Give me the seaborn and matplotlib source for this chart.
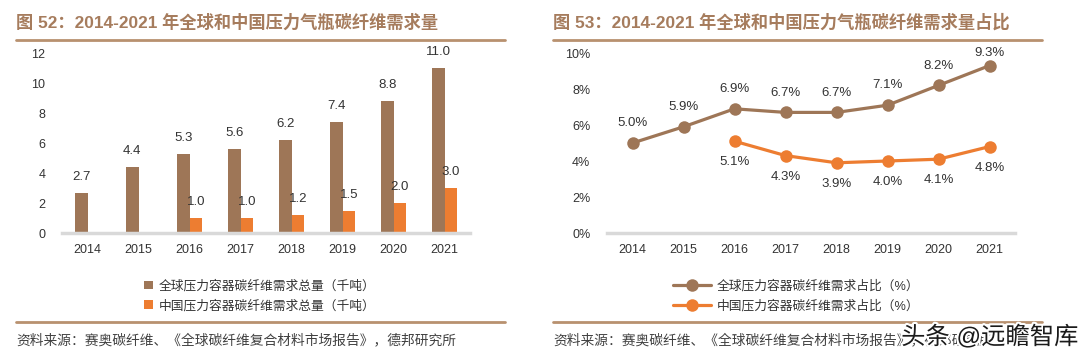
"""Pressure-vessel carbon fibre demand: global vs China, 2014-2021."""

import matplotlib

matplotlib.use("Agg")
import matplotlib.pyplot as plt
import matplotlib.patheffects as pe
import numpy as np
import pandas as pd
import seaborn as sns
from matplotlib.lines import Line2D

years = ["2014", "2015", "2016", "2017", "2018", "2019", "2020", "2021"]
global_demand = [2.7, 4.4, 5.3, 5.6, 6.2, 7.4, 8.8, 11.0]
china_demand = [np.nan, np.nan, 1.0, 1.0, 1.2, 1.5, 2.0, 3.0]
global_share = [5.0, 5.9, 6.9, 6.7, 6.7, 7.1, 8.2, 9.3]
china_share = [np.nan, np.nan, 5.1, 4.3, 3.9, 4.0, 4.1, 4.8]

bar_names = ["全球压力容器碳纤维需求总量（千吨）", "中国压力容器碳纤维需求总量（千吨）"]
line_names = ["全球压力容器碳纤维需求占比（%）", "中国压力容器碳纤维需求占比（%）"]
title_left = "图 52：2014-2021 年全球和中国压力气瓶碳纤维需求量"
title_right = "图 53：2014-2021 年全球和中国压力气瓶碳纤维需求量占比"
source = "资料来源：赛奥碳纤维、《全球碳纤维复合材料市场报告》，德邦研究所"

BROWN = "#9E7657"
ORANGE = "#ED7D31"
RULE = "#B8916F"
TITLE = "#A67C5D"
TEXT = "#333333"
AXIS = "#D9D9D9"

sns.set_theme(style="white")
plt.rcParams["font.family"] = ["Liberation Sans", "Noto Sans CJK SC", "DejaVu Sans"]
plt.rcParams["axes.unicode_minus"] = False

bars = pd.DataFrame({
    "year": years * 2,
    "value": global_demand + china_demand,
    "series": [bar_names[0]] * 8 + [bar_names[1]] * 8,
}).dropna()
shares = pd.DataFrame({
    "year": years * 2,
    "value": global_share + china_share,
    "series": [line_names[0]] * 8 + [line_names[1]] * 8,
}).dropna()

W, H = 1080, 361
fig = plt.figure(figsize=(W / 100, H / 100), dpi=100)


def px_box(x0, x1, y_top, y_bot):
    return [x0 / W, 1 - y_bot / H, (x1 - x0) / W, (y_bot - y_top) / H]


ax1 = fig.add_axes(px_box(62, 470, 53, 233))
ax2 = fig.add_axes(px_box(607, 1015, 53, 233))

# left: bars
sns.barplot(data=bars, x="year", y="value", hue="series", order=years,
            hue_order=bar_names, palette=[BROWN, ORANGE], width=0.49,
            linewidth=0, saturation=1, ax=ax1)
for cont in ax1.containers:
    for bar in cont:
        h = bar.get_height()
        if np.isfinite(h) and h > 0:
            ax1.annotate(f"{h:.1f}", (bar.get_x() + bar.get_width() / 2, h),
                         xytext=(0, 7), textcoords="offset points",
                         ha="center", va="bottom", fontsize=9.5, color=TEXT)
ax1.set_ylim(0, 12)
ax1.set_yticks(range(0, 13, 2))
ax1.set_xlim(-0.5, 7.5)

# right: lines
sns.lineplot(data=shares, x="year", y="value", hue="series", hue_order=line_names,
             palette=[BROWN, ORANGE], marker="o", markersize=9, markeredgewidth=0,
             linewidth=2.3, sort=False, ax=ax2)
for k, vals in enumerate([global_share, china_share]):
    for i, v in enumerate(vals):
        if np.isnan(v):
            continue
        if k == 0:
            dy = 5 if i == len(vals) - 1 else 10
            va = "bottom"
        else:
            dy = -11
            va = "top"
        ax2.annotate(f"{v:.1f}%", (i, v), xytext=(0, dy), textcoords="offset points",
                     ha="center", va=va, fontsize=9.5, color=TEXT)
ax2.set_ylim(0, 10)
ax2.set_yticks(range(0, 11, 2))
ax2.set_yticklabels([f"{t}%" for t in range(0, 11, 2)])
ax2.set_xlim(-0.5, 7.5)

for ax in (ax1, ax2):
    ax.set_xlabel("")
    ax.set_ylabel("")
    for side in ("top", "right", "left"):
        ax.spines[side].set_visible(False)
    ax.spines["bottom"].set_color(AXIS)
    ax.spines["bottom"].set_linewidth(2.5)
    ax.tick_params(axis="both", length=0, labelsize=9, colors=TEXT)
    ax.tick_params(axis="y", pad=12)
    ax.tick_params(axis="x", pad=8)
    ax.grid(False)

h1, l1 = ax1.get_legend_handles_labels()
ax1.legend(h1, l1, loc="center", bbox_to_anchor=(0.485, -0.35), ncol=1, frameon=False,
           fontsize=9.2, handlelength=0.7, handleheight=0.7, handletextpad=0.4,
           labelspacing=0.55, labelcolor=TEXT)
h2, l2 = ax2.get_legend_handles_labels()
ax2.legend(h2, l2, loc="center", bbox_to_anchor=(0.463, -0.35), ncol=1, frameon=False,
           fontsize=9.2, handlelength=3.0, handletextpad=0.4,
           labelspacing=0.55, labelcolor=TEXT)

# titles, rules and source lines
for x0, x1, title in [(16, 505, title_left), (553, 1042, title_right)]:
    fig.text(x0 / W, 1 - 22 / H, title, ha="left", va="center", fontsize=12.4,
             fontweight="bold", color=TITLE)
    for y in (40, 322):
        fig.add_artist(Line2D([x0 / W, x1 / W], [1 - y / H, 1 - y / H],
                              transform=fig.transFigure, color=RULE, linewidth=2))
    fig.text(x0 / W, 1 - 340 / H, source, ha="left", va="center", fontsize=9.9,
             color="#404040")

# watermark stamped over the lower right corner, as in the source image
fig.text(1078 / W, 1 - 337 / H, "头条 @远瞻智库", ha="right", va="center",
         fontsize=17.5, color="#1a1a1a",
         path_effects=[pe.withStroke(linewidth=3, foreground="white")])

fig.savefig("out.png", dpi=100, facecolor="white")
